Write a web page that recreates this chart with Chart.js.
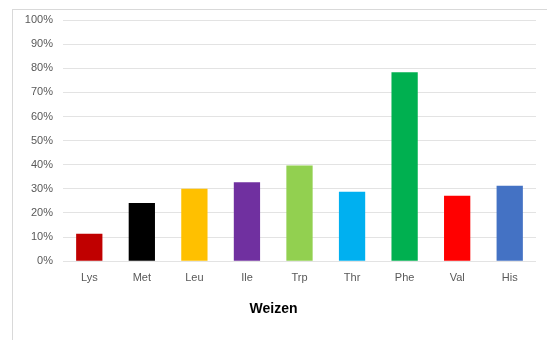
<!DOCTYPE html>
<html>
<head>
<meta charset="utf-8">
<script src="https://cdn.jsdelivr.net/npm/chart.js@4/dist/chart.umd.min.js"></script>
<style>
    html, body { margin: 0; padding: 0; background: #ffffff; }
    #wrap { position: relative; width: 547px; height: 340px; overflow: hidden; }
    #rahmen {
        position: absolute; left: 12px; top: 9px; width: 600px; height: 400px;
        border-left: 1px solid #d9d9d9; border-top: 1px solid #d9d9d9;
    }
    canvas { position: absolute; left: 0; top: 0; }
</style>
</head>
<body>
<div id="wrap">
    <div id="rahmen"></div>
    <canvas id="weizenChart" width="547" height="340"></canvas>
</div>
<script>
// Aminosäuren (Kategorien)
const aminosaeuren = ["Lys", "Met", "Leu", "Ile", "Trp", "Thr", "Phe", "Val", "His"];
// Anteile in Prozent
const werte = [11.4, 24.1, 30.0, 32.7, 39.7, 28.8, 78.3, 27.1, 31.3];
// Farben je Balken
const farben = ["#c00000", "#000000", "#ffc000", "#7030a0", "#92d050", "#00b0f0", "#00b050", "#ff0000", "#4472c4"];
const titel = "Weizen";

const schrift = "'Liberation Sans', Arial, sans-serif";

const ctx = document.getElementById("weizenChart").getContext("2d");
new Chart(ctx, {
    type: "bar",
    data: {
        labels: aminosaeuren,
        datasets: [{
            data: werte,
            backgroundColor: farben,
            borderWidth: 0,
            categoryPercentage: 1.0,
            barPercentage: 0.5,
        }],
    },
    options: {
        responsive: false,
        animation: false,
        layout: { padding: { left: 11, right: 11, top: 20, bottom: 0 } },
        plugins: {
            legend: { display: false },
            tooltip: { enabled: false },
            // Titel unter der Grafik, über die ganze Breite zentriert
            title: {
                display: true,
                position: "bottom",
                text: titel,
                color: "#000000",
                padding: { top: 16, bottom: 22 },
                font: { family: schrift, size: 14, weight: "bold" },
            },
        },
        scales: {
            x: {
                grid: { display: false, drawTicks: false },
                border: { display: false },
                ticks: {
                    color: "#595959",
                    padding: 10,
                    font: { family: schrift, size: 11 },
                },
                afterFit: (scale) => { scale.height = 24; },
            },
            y: {
                min: 0,
                max: 100,
                grid: { color: "#e3e3e3", lineWidth: 1, drawTicks: false },
                border: { display: false },
                ticks: {
                    stepSize: 10,
                    color: "#595959",
                    padding: 10,
                    font: { family: schrift, size: 11 },
                    callback: (v) => v + "%",
                },
                afterFit: (scale) => { scale.width = 52; },
            },
        },
    },
});
</script>
</body>
</html>
